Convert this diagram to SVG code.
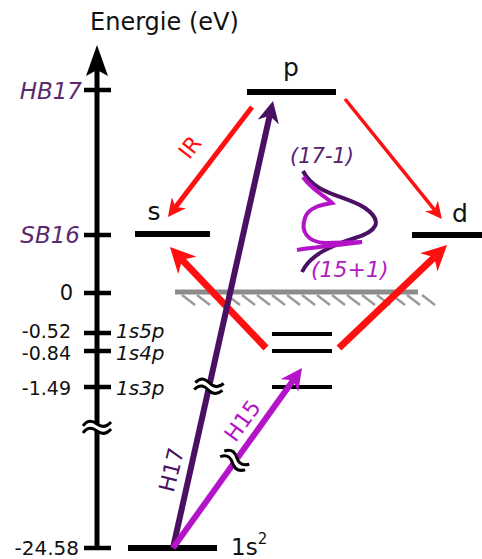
<svg xmlns="http://www.w3.org/2000/svg" xmlns:xlink="http://www.w3.org/1999/xlink" width="482" height="559" viewBox="0 0 482 559">
<style>
.t{font-family:"DejaVu Sans","Liberation Sans",sans-serif;fill:#111}
.it{font-style:italic}
.lab{fill:#5a2a6e}
.lvl{stroke:#000;stroke-width:6}
.tick{stroke:#000;stroke-width:4.5}
.red{stroke:#ff1010;fill:none}
.brk path{fill:none;stroke:#000;stroke-width:3}
</style>
<defs>
<marker id="redA" viewBox="0 0 10 10" refX="3" refY="5" markerWidth="3.6" markerHeight="3.6" orient="auto" markerUnits="strokeWidth"><path d="M0,0 L10,5 L0,10 L3,5 z" fill="#ff1010"/></marker>
<marker id="redB" viewBox="0 0 10 10" refX="3" refY="5" markerWidth="4.8" markerHeight="4.8" orient="auto" markerUnits="strokeWidth"><path d="M0,0 L10,5 L0,10 L3,5 z" fill="#ff1010"/></marker>
<marker id="purHead" viewBox="0 0 10 10" refX="3" refY="5" markerWidth="3.6" markerHeight="3.6" orient="auto" markerUnits="strokeWidth"><path d="M0,0 L10,5 L0,10 L3,5 z" fill="#4a1062"/></marker>
<marker id="magHead" viewBox="0 0 10 10" refX="3" refY="5" markerWidth="3.6" markerHeight="3.6" orient="auto" markerUnits="strokeWidth"><path d="M0,0 L10,5 L0,10 L3,5 z" fill="#b414c8"/></marker>
<g id="brk" class="brk"><rect x="-5" y="-3" width="10" height="7" fill="#fff"/><path d="M-14,-1 C-9,-8 -4,-6 0,-3 S9,1 14,-5"/><path d="M-14,6 C-9,-1 -4,1 0,4 S9,8 14,2"/></g>
</defs>
<rect width="482" height="559" fill="#fff"/>

<g id="axis">
<text class="t" x="90" y="30" font-size="24">Energie (eV)</text>
<line x1="97" y1="550" x2="97" y2="68" stroke="#000" stroke-width="5"/>
<path d="M97,45 L108,76 L97,70 L86,76 z" fill="#000"/>
<line class="tick" x1="84" y1="90" x2="111" y2="90"/>
<line class="tick" x1="84" y1="235" x2="111" y2="235"/>
<line class="tick" x1="84" y1="293" x2="111" y2="293"/>
<line class="tick" x1="84" y1="333" x2="111" y2="333"/>
<line class="tick" x1="84" y1="351" x2="111" y2="351"/>
<line class="tick" x1="84" y1="387" x2="111" y2="387"/>
<line class="tick" x1="84" y1="548" x2="111" y2="548"/>
<use xlink:href="#brk" transform="translate(97,427)"/>
<text class="t it lab" x="82" y="99" font-size="23" text-anchor="end">HB17</text>
<text class="t it lab" x="80" y="243" font-size="23" text-anchor="end">SB16</text>
<text class="t" x="73" y="300" font-size="21" text-anchor="end">0</text>
<text class="t" x="71" y="338" font-size="19" text-anchor="end">-0.52</text>
<text class="t" x="71" y="360" font-size="19" text-anchor="end">-0.84</text>
<text class="t" x="71" y="395" font-size="19" text-anchor="end">-1.49</text>
<text class="t" x="79" y="555" font-size="20" text-anchor="end">-24.58</text>
<text class="t it" x="116" y="338" font-size="20">1s5p</text>
<text class="t it" x="116" y="360" font-size="20">1s4p</text>
<text class="t it" x="116" y="395" font-size="20">1s3p</text>
</g>

<g id="level-p">
<line class="lvl" x1="247" y1="92" x2="336" y2="92"/>
<text class="t" x="291" y="76" font-size="25" text-anchor="middle">p</text>
</g>
<g id="level-s">
<line class="lvl" x1="135" y1="234" x2="210" y2="234"/>
<text class="t" x="154" y="220" font-size="25" text-anchor="middle">s</text>
</g>
<g id="level-d">
<line class="lvl" x1="412" y1="235" x2="482" y2="235"/>
<text class="t" x="460" y="222" font-size="25" text-anchor="middle">d</text>
</g>
<g id="continuum">
<line x1="175" y1="292" x2="418" y2="292" stroke="#8c8c8c" stroke-width="5"/>
<path d="M182,295l13,10M197,295l13,10M212,295l13,10M227,295l13,10M242,295l13,10M257,295l13,10M272,295l13,10M287,295l13,10M302,295l13,10M317,295l13,10M332,295l13,10M347,295l13,10M362,295l13,10M377,295l13,10M392,295l13,10M407,295l13,10M422,295l13,10" stroke="#9a9a9a" stroke-width="2.5"/>
</g>
<g id="rydberg">
<line x1="272" y1="334" x2="332" y2="334" stroke="#000" stroke-width="4"/>
<line x1="272" y1="351" x2="332" y2="351" stroke="#000" stroke-width="4"/>
<line x1="272" y1="387" x2="332" y2="387" stroke="#000" stroke-width="4"/>
</g>
<g id="level-1s2">
<line class="lvl" x1="128" y1="548" x2="217" y2="548"/>
<text class="t" x="231" y="555" font-size="23">1s<tspan font-size="15" dy="-11">2</tspan></text>
</g>

<g id="spectrum">
<path d="M303,171 C315,195 345,195 365,208 C385,222 375,232 355,238 C330,246 310,255 302,272" fill="none" stroke="#4a1062" stroke-width="4"/>
<path d="M303,177 C312,190 325,196 332,203 C320,205 308,208 305,218 C300,232 308,242 325,243 L362,242 C340,245 315,247 297,250" fill="none" stroke="#b414c8" stroke-width="4"/>
<text class="t it" x="290" y="163" font-size="21" style="fill:#5a2070">(17-1)</text>
<text class="t it" x="311" y="277" font-size="22" style="fill:#b020c0">(15+1)</text>
</g>

<g id="connectors">
<line class="red" x1="252" y1="107" x2="175.6" y2="207" stroke-width="5" marker-end="url(#redA)"/>
<line class="red" x1="345" y1="99" x2="434.5" y2="209.9" stroke-width="3.5" marker-end="url(#redB)"/>
<line class="red" x1="266" y1="348" x2="182.1" y2="259.8" stroke-width="7" marker-end="url(#redA)"/>
<line class="red" x1="339" y1="348" x2="434.3" y2="257.2" stroke-width="7" marker-end="url(#redA)"/>
<line x1="173" y1="548" x2="269.7" y2="115.7" stroke="#4a1062" stroke-width="6" marker-end="url(#purHead)"/>
<line x1="173" y1="548" x2="293.2" y2="380.3" stroke="#b414c8" stroke-width="6" marker-end="url(#magHead)"/>
<use xlink:href="#brk" transform="translate(209,386) rotate(10)"/>
<use xlink:href="#brk" transform="translate(235,460) rotate(36)"/>
<text class="t" transform="translate(196,152) rotate(-52)" font-size="22" text-anchor="middle" style="fill:#ff1010">IR</text>
<text class="t" transform="translate(172,470) rotate(-76)" font-size="22" text-anchor="middle" dy="7" style="fill:#4a1062">H17</text>
<text class="t" transform="translate(243,421) rotate(-54)" font-size="22" text-anchor="middle" dy="7" style="fill:#b414c8">H15</text>
</g>
</svg>
